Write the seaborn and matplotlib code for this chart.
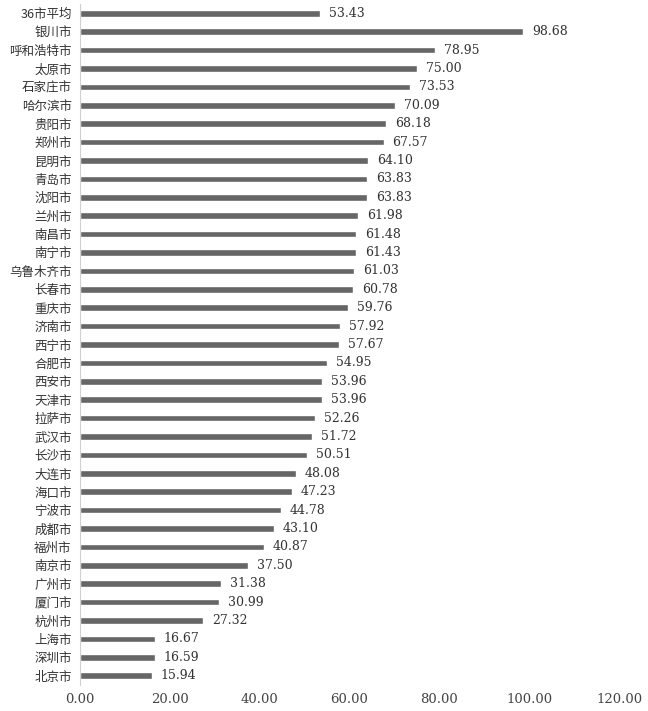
import numpy as np
import pandas as pd
import matplotlib
matplotlib.use("Agg")
import matplotlib.pyplot as plt
import seaborn as sns

cities = ["36市平均", "银川市", "呼和浩特市", "太原市", "石家庄市", "哈尔滨市", "贵阳市",
          "郑州市", "昆明市", "青岛市", "沈阳市", "兰州市", "南昌市", "南宁市",
          "乌鲁木齐市", "长春市", "重庆市", "济南市", "西宁市", "合肥市", "西安市",
          "天津市", "拉萨市", "武汉市", "长沙市", "大连市", "海口市", "宁波市",
          "成都市", "福州市", "南京市", "广州市", "厦门市", "杭州市", "上海市",
          "深圳市", "北京市"]
values = [53.43, 98.68, 78.95, 75.00, 73.53, 70.09, 68.18,
          67.57, 64.10, 63.83, 63.83, 61.98, 61.48, 61.43,
          61.03, 60.78, 59.76, 57.92, 57.67, 54.95, 53.96,
          53.96, 52.26, 51.72, 50.51, 48.08, 47.23, 44.78,
          43.10, 40.87, 37.50, 31.38, 30.99, 27.32, 16.67,
          16.59, 15.94]
x_ticks = [0, 20, 40, 60, 80, 100, 120]

df = pd.DataFrame({"city": cities, "value": values})

sns.set_style("white")
plt.rcParams["font.family"] = ["Noto Sans CJK SC", "DejaVu Sans"]

fig = plt.figure(figsize=(6.48, 7.11), dpi=100)
ax = fig.add_axes([80 / 648, 26 / 711, 539 / 648, 681 / 711])

sns.barplot(data=df, x="value", y="city", orient="h", color="#666666",
            width=0.36, saturation=1, ax=ax)

# value labels next to each bar
for i, v in enumerate(values):
    ax.text(v + 2.0, i, f"{v:.2f}", va="center", ha="left",
            fontsize=9, color="#333333", family=["DejaVu Serif"])

ax.set_xlim(0, 120)
ax.set_ylim(len(cities) - 0.5, -0.5)
ax.set_xticks(x_ticks)
ax.set_xticklabels([f"{t:.2f}" for t in x_ticks], family=["DejaVu Serif"],
                   fontsize=9.5, color="#444444")
ax.tick_params(axis="y", labelsize=9, colors="#333333", length=0, pad=6)
ax.tick_params(axis="x", length=0, pad=6)
ax.set_xlabel("")
ax.set_ylabel("")
for s in ["top", "right", "bottom"]:
    ax.spines[s].set_visible(False)
ax.spines["left"].set_color("#d0d0d0")
ax.spines["left"].set_linewidth(0.8)

fig.savefig("out.png", dpi=100)
